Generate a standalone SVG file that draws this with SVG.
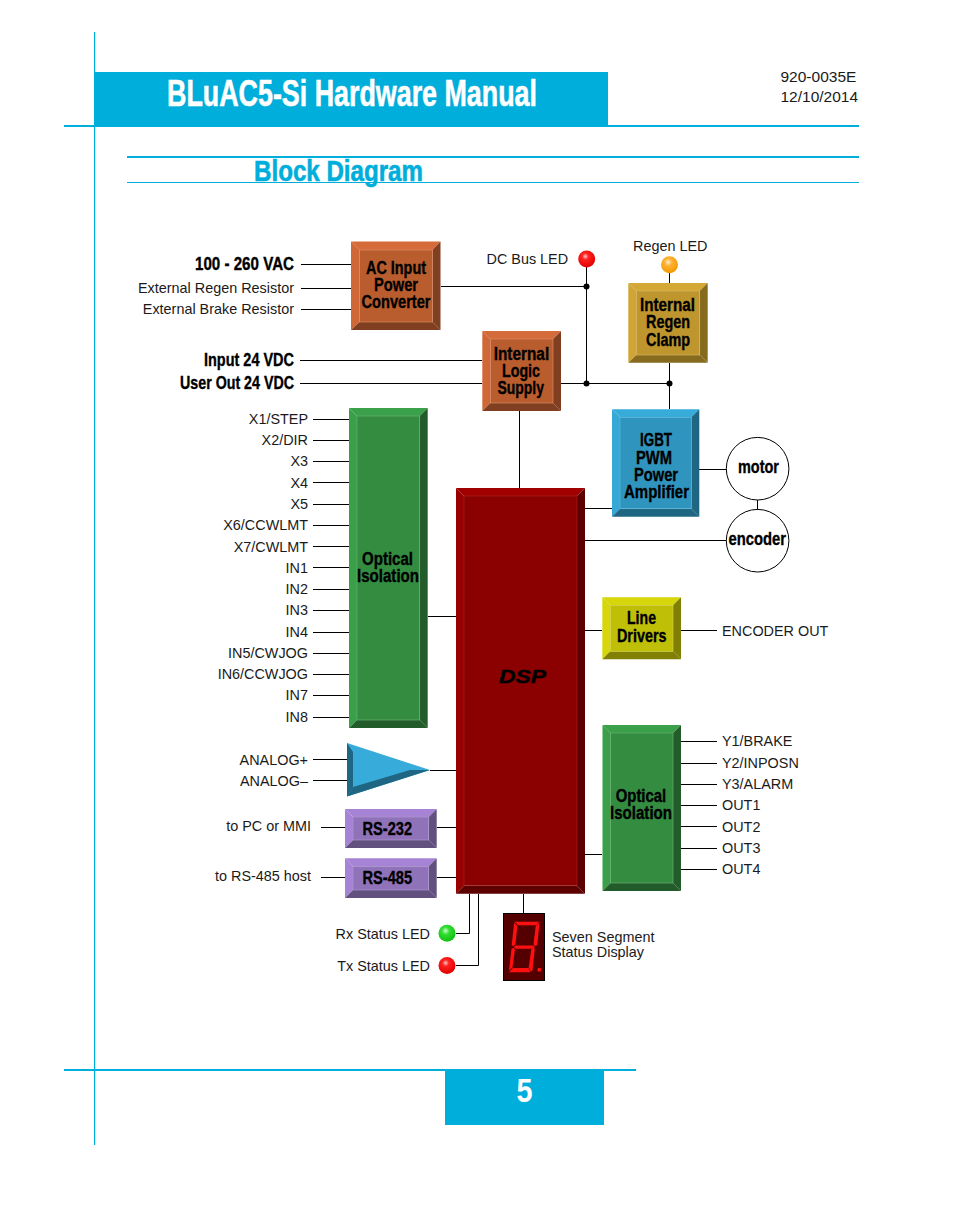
<svg xmlns="http://www.w3.org/2000/svg" width="954" height="1209" viewBox="0 0 954 1209">
<style>
text{font-family:"Liberation Sans",Arial,sans-serif;fill:#1a1a1a}
.s{font-size:14.4px}
.e{text-anchor:end}
.b{font-weight:bold;fill:#000;stroke:#000;stroke-width:.35px;font-size:18px;transform:translateY(.8px)}
.w{stroke:#000;stroke-width:1;fill:none}
.h{fill:#00aedb}
.f{stroke-width:.7}
.or .t{fill:#d56b3b}.or .l{fill:#cf6737}.or .d{fill:#7f3f20}.or .c{fill:#b95c2e;stroke:#d98a63}
.go .t{fill:#d3a836}.go .l{fill:#d0a535}.go .d{fill:#866b1f}.go .c{fill:#be962d;stroke:#d6b660}
.bl .t{fill:#37abda}.bl .l{fill:#35a8d6}.bl .d{fill:#1f6682}.bl .c{fill:#2f95bf;stroke:#5bb4d8}
.gr .t{fill:#3aa04a}.gr .l{fill:#39a049}.gr .d{fill:#235c2b}.gr .c{fill:#338c40;stroke:#68ad72}
.ye .t{fill:#d6d60a}.ye .l{fill:#d6d60a}.ye .d{fill:#808005}.ye .c{fill:#bfbf08;stroke:#d2d245}
.pu .t{fill:#a683d5}.pu .l{fill:#a683d5}.pu .d{fill:#62507f}.pu .c{fill:#8f72b8;stroke:#ad95ce}
.re .t{fill:#a00000}.re .l{fill:#990000}.re .d{fill:#5c0000}.re .c{fill:#8b0000;stroke:#a83a3a}
</style>
<defs>
<radialGradient id="red" cx=".42" cy=".35" r=".65"><stop offset="0" stop-color="#ffc8c8"/><stop offset=".3" stop-color="#ff2020"/><stop offset="1" stop-color="#e00000"/></radialGradient>
<radialGradient id="amb" cx=".42" cy=".35" r=".65"><stop offset="0" stop-color="#ffeecc"/><stop offset=".35" stop-color="#ffb030"/><stop offset="1" stop-color="#f09a00"/></radialGradient>
<radialGradient id="grn" cx=".42" cy=".35" r=".65"><stop offset="0" stop-color="#d0ffd0"/><stop offset=".35" stop-color="#30dd30"/><stop offset="1" stop-color="#10c010"/></radialGradient>
</defs>
<g id="page">
<rect class="h" x="95" y="72" width="513" height="54"/>
<rect class="h" x="64" y="125" width="795" height="2"/>
<rect class="h" x="94" y="32" width="1.2" height="1113"/>
<rect class="h" x="127" y="156" width="732" height="2"/>
<rect class="h" x="127" y="182" width="732" height="1"/>
<rect class="h" x="64" y="1069" width="572" height="2"/>
<rect class="h" x="445" y="1070" width="159" height="55"/>
<text x="167" y="106" textLength="370" lengthAdjust="spacingAndGlyphs" style="font-size:37px;font-weight:bold;fill:#fff;stroke:#fff;stroke-width:.6">BLuAC5-Si Hardware Manual</text>
<text x="254" y="181" textLength="169" lengthAdjust="spacingAndGlyphs" style="font-size:29px;font-weight:bold;fill:#00aedb;stroke:#00aedb;stroke-width:.6">Block Diagram</text>
<text x="780.5" y="82" style="font-size:15.500px">920-0035E</text>
<text x="780.5" y="101.500" style="font-size:15.500px">12/10/2014</text>
<text x="524.5" y="1102" text-anchor="middle" textLength="16" lengthAdjust="spacingAndGlyphs" style="font-size:33px;font-weight:bold;fill:#fff">5</text>
</g>
<g id="connectors" class="w">
<path d="M301 264.500H351M301 288.500H351M301 309.500H351M300 360.500H482M300 383.500H482"/>
<path d="M441 286.500H586.500M586.500 267V383.500M561 383.500H669.500M669.500 273V283M669.500 363V409M519.500 411V488"/>
<path d="M585 508.500H612M699 469.500H727M757.500 500V510M585 540.500H727M585 630.500H602M681 630.500H717"/>
<path d="M313 419.500H349M313 440.500H349M313 461.500H349M313 482.500H349M313 504.500H349M313 525.500H349M313 546.500H349M313 567.500H349M313 589.500H349M313 610.500H349M313 632.500H349M313 653.500H349M313 674.500H349M313 695.500H349M313 717.500H349"/>
<path d="M428 616.500H456M430 770.500H456M313 759.500H350M313 780.500H350M321 827.500H345M437 827.500H456M321 877.500H345M437 877.500H456"/>
<path d="M681 741.500H717M681 763.500H717M681 784.500H717M681 805.500H717M681 826.500H717M681 848.500H717M681 869.500H717M585 854.500H602"/>
<path d="M469.500 894V933.500H456M478.500 894V965.500H456M523.500 894V913"/>
</g>
<g id="junctions">
<circle cx="586.500" cy="286.500" r="3"/><circle cx="586.500" cy="383.500" r="3"/><circle cx="669.500" cy="383.500" r="3"/>
</g>
<g id="ac-input" class="or">
<polygon class="t" points="351,241.5 440.5,241.5 432.5,250 359.5,250"/><polygon class="l" points="351,241.5 359.5,250 359.5,322 351,330"/><polygon class="d" points="440.5,241.5 440.5,330 432.5,322 432.5,250"/><polygon class="d" points="351,330 359.5,322 432.5,322 440.5,330"/><rect class="c f" x="359.5" y="250" width="73" height="72"/>
<text class="b" x="366" y="273" textLength="60" lengthAdjust="spacingAndGlyphs">AC Input</text>
<text class="b" x="374" y="290" textLength="44" lengthAdjust="spacingAndGlyphs">Power</text>
<text class="b" x="361.5" y="307" textLength="69" lengthAdjust="spacingAndGlyphs">Converter</text>
</g>
<g id="logic-supply" class="or">
<polygon class="t" points="482.3,331 561,331 553,339 490.3,339"/><polygon class="l" points="482.3,331 490.3,339 490.3,403 482.3,411"/><polygon class="d" points="561,331 561,411 553,403 553,339"/><polygon class="d" points="482.3,411 490.3,403 553,403 561,411"/><rect class="c f" x="490.3" y="339" width="62.7" height="64"/>
<text class="b" x="493.7" y="359" textLength="55.5" lengthAdjust="spacingAndGlyphs">Internal</text>
<text class="b" x="502" y="376.7" textLength="38" lengthAdjust="spacingAndGlyphs">Logic</text>
<text class="b" x="497.5" y="393" textLength="46.5" lengthAdjust="spacingAndGlyphs">Supply</text>
</g>
<g id="regen-clamp" class="go">
<polygon class="t" points="628.3,283 707.7,283 699.7,291 636.3,291"/><polygon class="l" points="628.3,283 636.3,291 636.3,355 628.3,362.7"/><polygon class="d" points="707.7,283 707.7,362.7 699.7,355 699.7,291"/><polygon class="d" points="628.3,362.7 636.3,355 699.7,355 707.7,362.7"/><rect class="c f" x="636.3" y="291" width="63.4" height="64"/>
<text class="b" x="640" y="310.500" textLength="55" lengthAdjust="spacingAndGlyphs">Internal</text>
<text class="b" x="646" y="327.500" textLength="44" lengthAdjust="spacingAndGlyphs">Regen</text>
<text class="b" x="646" y="345" textLength="44" lengthAdjust="spacingAndGlyphs">Clamp</text>
</g>
<g id="igbt" class="bl">
<polygon class="t" points="612,409.3 699.3,409.3 691.3,417.3 620,417.3"/><polygon class="l" points="612,409.3 620,417.3 620,508.7 612,516.7"/><polygon class="d" points="699.3,409.3 699.3,516.7 691.3,508.7 691.3,417.3"/><polygon class="d" points="612,516.7 620,508.7 691.3,508.7 699.3,516.7"/><rect class="c f" x="620" y="417.3" width="71.3" height="91.4"/>
<text class="b" x="640" y="445.500" textLength="32" lengthAdjust="spacingAndGlyphs">IGBT</text>
<text class="b" x="636" y="463" textLength="36" lengthAdjust="spacingAndGlyphs">PWM</text>
<text class="b" x="634" y="480" textLength="44" lengthAdjust="spacingAndGlyphs">Power</text>
<text class="b" x="624" y="497" textLength="65" lengthAdjust="spacingAndGlyphs">Amplifier</text>
</g>
<g id="motor">
<circle cx="757.6" cy="468.7" r="31.3" fill="#fff" stroke="#000" stroke-width="1"/>
<text class="b" x="738" y="472.7" textLength="41" lengthAdjust="spacingAndGlyphs">motor</text>
</g>
<g id="encoder">
<circle cx="757.6" cy="540.7" r="31.3" fill="#fff" stroke="#000" stroke-width="1"/>
<text class="b" x="728.5" y="544" textLength="57.5" lengthAdjust="spacingAndGlyphs">encoder</text>
</g>
<g id="optical-in" class="gr">
<polygon class="t" points="349,408 427.7,408 419.7,416 357,416"/><polygon class="l" points="349,408 357,416 357,720 349,728"/><polygon class="d" points="427.7,408 427.7,728 419.7,720 419.7,416"/><polygon class="d" points="349,728 357,720 419.7,720 427.7,728"/><rect class="c f" x="357" y="416" width="62.7" height="304"/>
<text class="b" x="362" y="564" textLength="51" lengthAdjust="spacingAndGlyphs">Optical</text>
<text class="b" x="357" y="581" textLength="62" lengthAdjust="spacingAndGlyphs">Isolation</text>
</g>
<g id="dsp" class="re">
<polygon class="t" points="456,488 585,488 577,496 464,496"/><polygon class="l" points="456,488 464,496 464,885.7 456,893.7"/><polygon class="d" points="585,488 585,893.7 577,885.7 577,496"/><polygon class="d" points="456,893.7 464,885.7 577,885.7 585,893.7"/><rect class="c f" x="464" y="496" width="113" height="389.7" style="stroke-opacity:.6"/>
<text x="499" y="683" textLength="47" lengthAdjust="spacingAndGlyphs" style="font-size:18px;font-weight:bold;font-style:italic;fill:#000;stroke:#000;stroke-width:.4">DSP</text>
</g>
<g id="line-drivers" class="ye">
<polygon class="t" points="602.3,597.3 681,597.3 673,605.3 610.3,605.3"/><polygon class="l" points="602.3,597.3 610.3,605.3 610.3,651.3 602.3,659.3"/><polygon class="d" points="681,597.3 681,659.3 673,651.3 673,605.3"/><polygon class="d" points="602.3,659.3 610.3,651.3 673,651.3 681,659.3"/><rect class="c f" x="610.3" y="605.3" width="62.7" height="46"/>
<text class="b" x="627" y="623" textLength="29" lengthAdjust="spacingAndGlyphs">Line</text>
<text class="b" x="617" y="641" textLength="49.500" lengthAdjust="spacingAndGlyphs">Drivers</text>
</g>
<g id="optical-out" class="gr">
<polygon class="t" points="602.5,725 681,725 673,733 610.5,733"/><polygon class="l" points="602.5,725 610.5,733 610.5,883 602.5,891"/><polygon class="d" points="681,725 681,891 673,883 673,733"/><polygon class="d" points="602.5,891 610.5,883 673,883 681,891"/><rect class="c f" x="610.5" y="733" width="62.5" height="150"/>
<text class="b" x="615.7" y="801.7" textLength="50.500" lengthAdjust="spacingAndGlyphs">Optical</text>
<text class="b" x="610" y="818" textLength="62" lengthAdjust="spacingAndGlyphs">Isolation</text>
</g>
<g id="amplifier">
<polygon points="347,743 430,770 347,796.5" fill="#37abda"/>
<polygon points="347,743 353,752 353,787 347,796.500" fill="#1f6682"/>
<polygon points="347,796.500 353,787 410,770 430,770" fill="#1f6682"/>
</g>
<g id="rs232" class="pu">
<polygon class="t" points="345,809 436.700,809 428.700,817 353,817"/><polygon class="l" points="345,809 353,817 353,840 345,848"/><polygon class="d" points="436.700,809 436.700,848 428.700,840 428.700,817"/><polygon class="d" points="345,848 353,840 428.700,840 436.700,848"/><rect class="c f" x="353" y="817" width="75.7" height="23"/>
<text class="b" x="362.500" y="834.300" textLength="49.500" lengthAdjust="spacingAndGlyphs">RS-232</text>
</g>
<g id="rs485" class="pu">
<polygon class="t" points="345,858.300 436.700,858.300 428.700,866.300 353,866.300"/><polygon class="l" points="345,858.300 353,866.300 353,890 345,898"/><polygon class="d" points="436.700,858.300 436.700,898 428.700,890 428.700,866.300"/><polygon class="d" points="345,898 353,890 428.700,890 436.700,898"/><rect class="c f" x="353" y="866.300" width="75.7" height="23.700"/>
<text class="b" x="362.500" y="883.300" textLength="49.500" lengthAdjust="spacingAndGlyphs">RS-485</text>
</g>
<g id="seven-segment">
<rect x="503.500" y="913.500" width="41" height="67" fill="#550000" stroke="#000"/>
<g fill="#ff1010">
<polygon points="514.500,921.700 539.300,921.700 536.500,925.200 518,925.200"/>
<polygon points="514.200,922.700 517.400,926 515.400,944.600 513,946.300 511.700,945"/>
<polygon points="539.500,922.700 537.300,945 535.500,946.300 533.500,944.600 535.700,926"/>
<polygon points="513.700,947 515.700,945.400 533.300,945.400 535,947 533,948.800 515.300,948.800"/>
<polygon points="511.500,949 513,947.800 515,949.500 512.500,967.300 509,970.700"/>
<polygon points="534.800,949 532.400,970.800 530.800,971.500 528.800,967.300 531.200,949.500 533.300,947.800"/>
<polygon points="512.800,968 528.500,968 530.500,972.300 509,972.300"/>
<circle cx="539.300" cy="969.800" r="2"/>
</g>
</g>
<g id="leds">
<circle id="led-dc" cx="586.700" cy="259" r="8.500" fill="url(#red)"/>
<circle id="led-regen" cx="669.500" cy="264.700" r="8.500" fill="url(#amb)"/>
<circle id="led-rx" cx="447" cy="933.300" r="8.500" fill="url(#grn)"/>
<circle id="led-tx" cx="447" cy="965.500" r="8.500" fill="url(#red)"/>
</g>
<g id="labels">
<text class="b" x="195" y="269" textLength="99" lengthAdjust="spacingAndGlyphs">100 - 260 VAC</text>
<text class="s e" x="294" y="293">External Regen Resistor</text>
<text class="s e" x="294" y="314">External Brake Resistor</text>
<text class="b" x="204" y="365" textLength="90" lengthAdjust="spacingAndGlyphs">Input 24 VDC</text>
<text class="b" x="180" y="388" textLength="114" lengthAdjust="spacingAndGlyphs">User Out 24 VDC</text>
<text class="s" x="486.500" y="264">DC Bus LED</text>
<text class="s" x="633" y="251">Regen LED</text>
<text class="s e" x="308" y="424">X1/STEP</text>
<text class="s e" x="308" y="445">X2/DIR</text>
<text class="s e" x="308" y="466">X3</text>
<text class="s e" x="308" y="488">X4</text>
<text class="s e" x="308" y="509">X5</text>
<text class="s e" x="308" y="530">X6/CCWLMT</text>
<text class="s e" x="308" y="552">X7/CWLMT</text>
<text class="s e" x="308" y="573">IN1</text>
<text class="s e" x="308" y="594">IN2</text>
<text class="s e" x="308" y="615">IN3</text>
<text class="s e" x="308" y="637">IN4</text>
<text class="s e" x="308" y="658">IN5/CWJOG</text>
<text class="s e" x="308" y="679">IN6/CCWJOG</text>
<text class="s e" x="308" y="700">IN7</text>
<text class="s e" x="308" y="722">IN8</text>
<text class="s e" x="308" y="765">ANALOG+</text>
<text class="s e" x="308" y="786">ANALOG–</text>
<text class="s e" x="311" y="831">to PC or MMI</text>
<text class="s e" x="311" y="881">to RS-485 host</text>
<text class="s e" x="430" y="939">Rx Status LED</text>
<text class="s e" x="430" y="971">Tx Status LED</text>
<text class="s" x="552" y="942">Seven Segment</text>
<text class="s" x="552" y="957">Status Display</text>
<text class="s" x="722" y="636">ENCODER OUT</text>
<text class="s" x="722" y="746">Y1/BRAKE</text>
<text class="s" x="722" y="768">Y2/INPOSN</text>
<text class="s" x="722" y="789">Y3/ALARM</text>
<text class="s" x="722" y="810">OUT1</text>
<text class="s" x="722" y="832">OUT2</text>
<text class="s" x="722" y="853">OUT3</text>
<text class="s" x="722" y="874">OUT4</text>
</g>
</svg>
